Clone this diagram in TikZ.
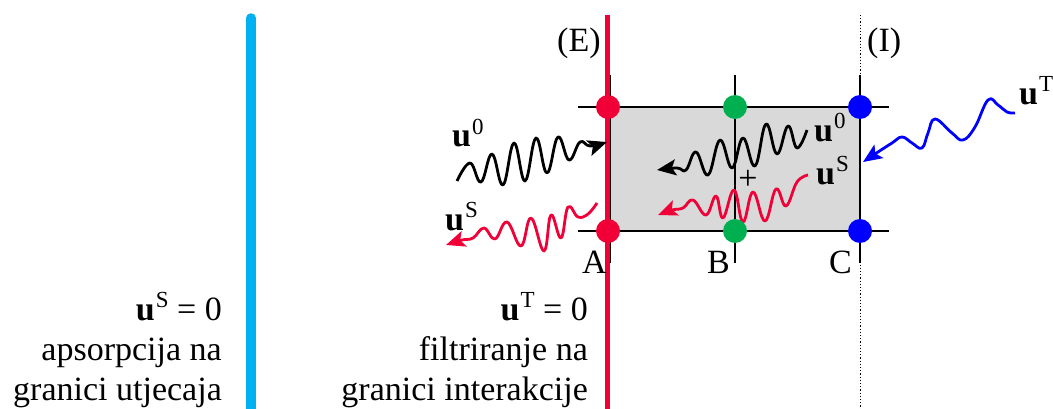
\documentclass[tikz,border=0pt]{standalone}
\usepackage{fontspec}
\setmainfont{Liberation Serif}
\usetikzlibrary{arrows.meta}
\definecolor{myred}{RGB}{240,0,55}
\definecolor{mygreen}{RGB}{0,176,80}
\definecolor{myblue}{RGB}{0,0,255}
\definecolor{lblue}{RGB}{0,176,240}
\definecolor{cellgray}{RGB}{217,217,217}
\newcommand\uvec[1]{\textbf{u}\kern1pt\raisebox{13pt}{\fontsize{23}{23}\selectfont #1}}
\begin{document}
\begin{tikzpicture}[x=1pt,y=-1pt,font=\fontsize{34}{40}\selectfont,
  wave/.style={line width=2.8pt,line join=round,-{Stealth[length=19pt,width=16pt,inset=4pt]}},
  dot/.style={circle,fill=#1,minimum size=24pt,inner sep=0pt},
  lbl/.style={anchor=base west,inner sep=0pt},
  rlbl/.style={anchor=base east,inner sep=0pt},
  grid/.style={line width=2.6pt}]
\useasboundingbox (0,0) rectangle (1053,409);

% cell
\coordinate (tl) at (609,107);
\coordinate (br) at (860,231);
\fill[cellgray] (tl) rectangle (br);
\draw[grid] (578,107) coordinate (h1a) -- (889,107) coordinate (h1b);
\draw[grid] (578,231) coordinate (h2a) -- (889,231) coordinate (h2b);
\draw[line width=0.8pt,dash pattern=on 1.2pt off 2pt] (860,15) coordinate (Itop) -- (860,409) coordinate (Ibot);
\draw[grid] (609.5,75) coordinate (va1) -- (609.5,263) coordinate (va2);
\draw[grid] (735,75) coordinate (vb1) -- (735,263) coordinate (vb2);
\draw[grid] (860,75) coordinate (vc1) -- (860,263) coordinate (vc2);

% boundaries
\draw[lblue,line width=9.5pt,line cap=round] (251,18) coordinate (Ltop) -- (251,420) coordinate (Lbot);
\draw[myred,line width=4.5pt] (607.5,15) coordinate (Etop) -- (607.5,409) coordinate (Ebot);

% waves
\draw[wave,black] plot[smooth,tension=0.7] coordinates {(457,181) (470,163) (481,182) (492,154) (503,185) (514,143) (525,181) (536,138) (547,173) (558,137) (569,160) (580,142) (590,146) (607,142)};
\draw[wave,myred] plot[smooth,tension=0.7] coordinates {(597,203) (588,214) (578,217) (568,207) (561,238) (551,215) (544,251) (531,218) (521,246) (507,222) (495,239) (484,228) (473,238) (462,240) (446,245)};
\draw[wave,black] plot[smooth,tension=0.7] coordinates {(807,130) (797,148) (788,126) (777,154) (766,124) (755,166) (743,138) (732,168) (720,140) (708,175) (696,152) (686,170) (677,168) (657,170)};
\draw[wave,myred] plot[smooth,tension=0.7] coordinates {(808,175) (797,182) (786,206) (776,189) (765,221) (753,192) (743,222) (734,190) (723,218) (716,196) (706,215) (693,200) (683,208) (672,210) (658,215)};
\draw[wave,myblue] plot[smooth,tension=0.7] coordinates {(1015,113) (1007,112) (998,105) (988,100) (975,127) (963,140) (952,133) (935,119) (928,133) (922,148) (912,143) (902,137) (892,143) (878,152) (863,162)};

% dots
\node[dot=myred] (A1) at (608,107) {};
\node[dot=myred] (A2) at (608,231) {};
\node[dot=mygreen] (B1) at (735,107) {};
\node[dot=mygreen] (B2) at (735,231) {};
\node[dot=myblue] (C1) at (860,107) {};
\node[dot=myblue] (C2) at (860,231) {};

% labels
\node[lbl] (E) at (557,52) {(E)};
\node[lbl] (I) at (867,52) {(I)};
\node[lbl] (lA) at (582,273) {A};
\node[lbl] (lB) at (707,273) {B};
\node[lbl] (lC) at (829,273) {C};
\node (plus) at (748,180) {+};
\node[lbl] (u0a) at (452,147) {\uvec{0}};
\node[lbl] (uSa) at (445,230) {\uvec{S}};
\node[lbl] (u0b) at (814,142) {\uvec{0}};
\node[lbl] (uSb) at (816,185) {\uvec{S}};
\node[lbl] (uT) at (1019,105) {\uvec{T}};

% bottom texts
\node[rlbl] (t1) at (222,320) {\uvec{S} = 0};
\node[rlbl] (t2) at (222,360) {apsorpcija na};
\node[rlbl] (t3) at (222,400) {granici utjecaja};
\node[rlbl] (t4) at (588,320) {\uvec{T} = 0};
\node[rlbl] (t5) at (588,360) {filtriranje na};
\node[rlbl] (t6) at (588,400) {granici interakcije};
\end{tikzpicture}
\end{document}
